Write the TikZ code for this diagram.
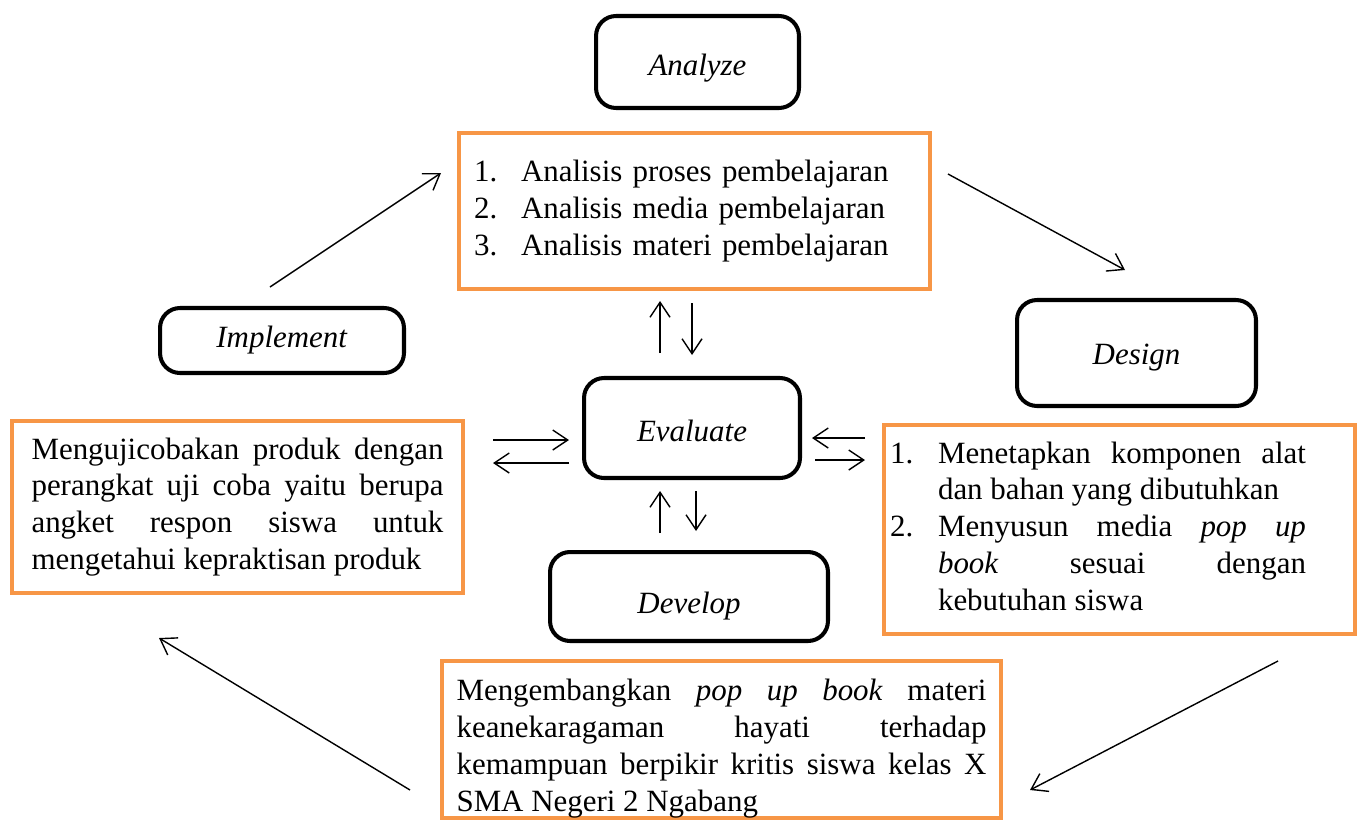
\documentclass[tikz,border=0pt]{standalone}
\usepackage{fontspec}
\usepackage{array}
\setmainfont{Liberation Serif}
\usetikzlibrary{arrows.meta}
\definecolor{oranye}{HTML}{F79646}
\hyphenpenalty=10000
\exhyphenpenalty=10000
\tolerance=10000

\begin{document}
\begin{tikzpicture}[x=0.02cm, y=-0.02cm,
		font=\fontsize{17.6}{21}\selectfont,
		fase/.style={draw, line width=2.3pt, rounded corners=0.4cm},
		isi/.style={draw=oranye, line width=2.3pt, inner sep=0pt},
		panah/.style={line width=0.8pt, -{Straight Barb[length=0.3cm,width=0.4cm]}}]
		\useasboundingbox (0,0) rectangle (1365,822);
		% tahap
		\node[fase, minimum width=4.06cm, minimum height=1.84cm, text height=0.66cm] (analyze) at (697.5,62) {\textit{Analyze}};
		\node[fase, minimum width=4.88cm, minimum height=1.3cm] (implement) at (282,340.5) {\textit{Implement}};
		\node[fase, minimum width=4.78cm, minimum height=2.12cm, text height=0.58cm] (design) at (1136.5,353) {\textit{Design}};
		\node[fase, minimum width=4.32cm, minimum height=2cm, text height=0.54cm] (evaluate) at (692,428) {\textit{Evaluate}};
		\node[fase, minimum width=5.56cm, minimum height=1.78cm, text height=0.82cm] (develop) at (689,596.5) {\textit{Develop}};
		% isi tahap
		\node[isi, minimum width=9.42cm, minimum height=3.12cm, text width=8.82cm, align=left] (analisis) at (694.5,211)
			{\makebox[0.94cm][l]{1.}Analisis proses pembelajaran\\
			 \makebox[0.94cm][l]{2.}Analisis media pembelajaran\\
			 \makebox[0.94cm][l]{3.}Analisis materi pembelajaran};
		\node[isi, minimum width=9.02cm, minimum height=3.44cm, text width=8.24cm, align=justify] (ujicoba) at (237.5,507)
			{Mengujicobakan produk dengan\linebreak perangkat uji coba yaitu berupa\linebreak angket respon siswa untuk\linebreak mengetahui kepraktisan produk};
		\node[isi, minimum width=9.42cm, minimum height=4.18cm, text width=9.18cm, align=justify] (rancang) at (1119.5,529.5)
			{\begin{tabular}{@{}p{0.96cm}@{}>{\leftskip=0pt\rightskip=0pt\parfillskip=0pt plus 1fil}p{7.36cm}@{\hspace{0.86cm}}}
			1. & Menetapkan komponen alat\linebreak dan bahan yang dibutuhkan\\
			2. & Menyusun media \textit{pop up}\linebreak \textit{book} sesuai dengan\linebreak kebutuhan siswa
			\end{tabular}};
		\node[isi, minimum width=11.18cm, minimum height=3.14cm, text width=10.6cm, text height=0.78cm, align=justify] (kembang) at (721.5,739.5)
			{Mengembangkan \textit{pop up book} materi\linebreak keanekaragaman hayati terhadap\linebreak kemampuan berpikir kritis siswa kelas X\linebreak SMA Negeri 2 Ngabang};
		% ujung panah
		\coordinate (i1) at (270,287); \coordinate (i2) at (441,173);
		\coordinate (a1) at (948,174); \coordinate (a2) at (1125,270);
		\coordinate (d1) at (1278,661); \coordinate (d2) at (1030,790);
		\coordinate (k1) at (410,790); \coordinate (k2) at (159,638);
		\coordinate (e1) at (660,353); \coordinate (e2) at (660,301);
		\coordinate (e3) at (692,303); \coordinate (e4) at (692,355);
		\coordinate (e5) at (660,533); \coordinate (e6) at (660,491);
		\coordinate (e7) at (696,491); \coordinate (e8) at (696,531);
		\coordinate (e9) at (493,440); \coordinate (e10) at (569,440);
		\coordinate (e11) at (569,463); \coordinate (e12) at (493,463);
		\coordinate (e13) at (865,438); \coordinate (e14) at (812,438);
		\coordinate (e15) at (815,460); \coordinate (e16) at (865,460);
		% panah
		\draw[panah] (i1) -- (i2);
		\draw[panah] (a1) -- (a2);
		\draw[panah] (d1) -- (d2);
		\draw[panah] (k1) -- (k2);
		\draw[panah] (e1) -- (e2);
		\draw[panah] (e3) -- (e4);
		\draw[panah] (e5) -- (e6);
		\draw[panah] (e7) -- (e8);
		\draw[panah] (e9) -- (e10);
		\draw[panah] (e11) -- (e12);
		\draw[panah] (e13) -- (e14);
		\draw[panah] (e15) -- (e16);
	\end{tikzpicture}
\end{document}
